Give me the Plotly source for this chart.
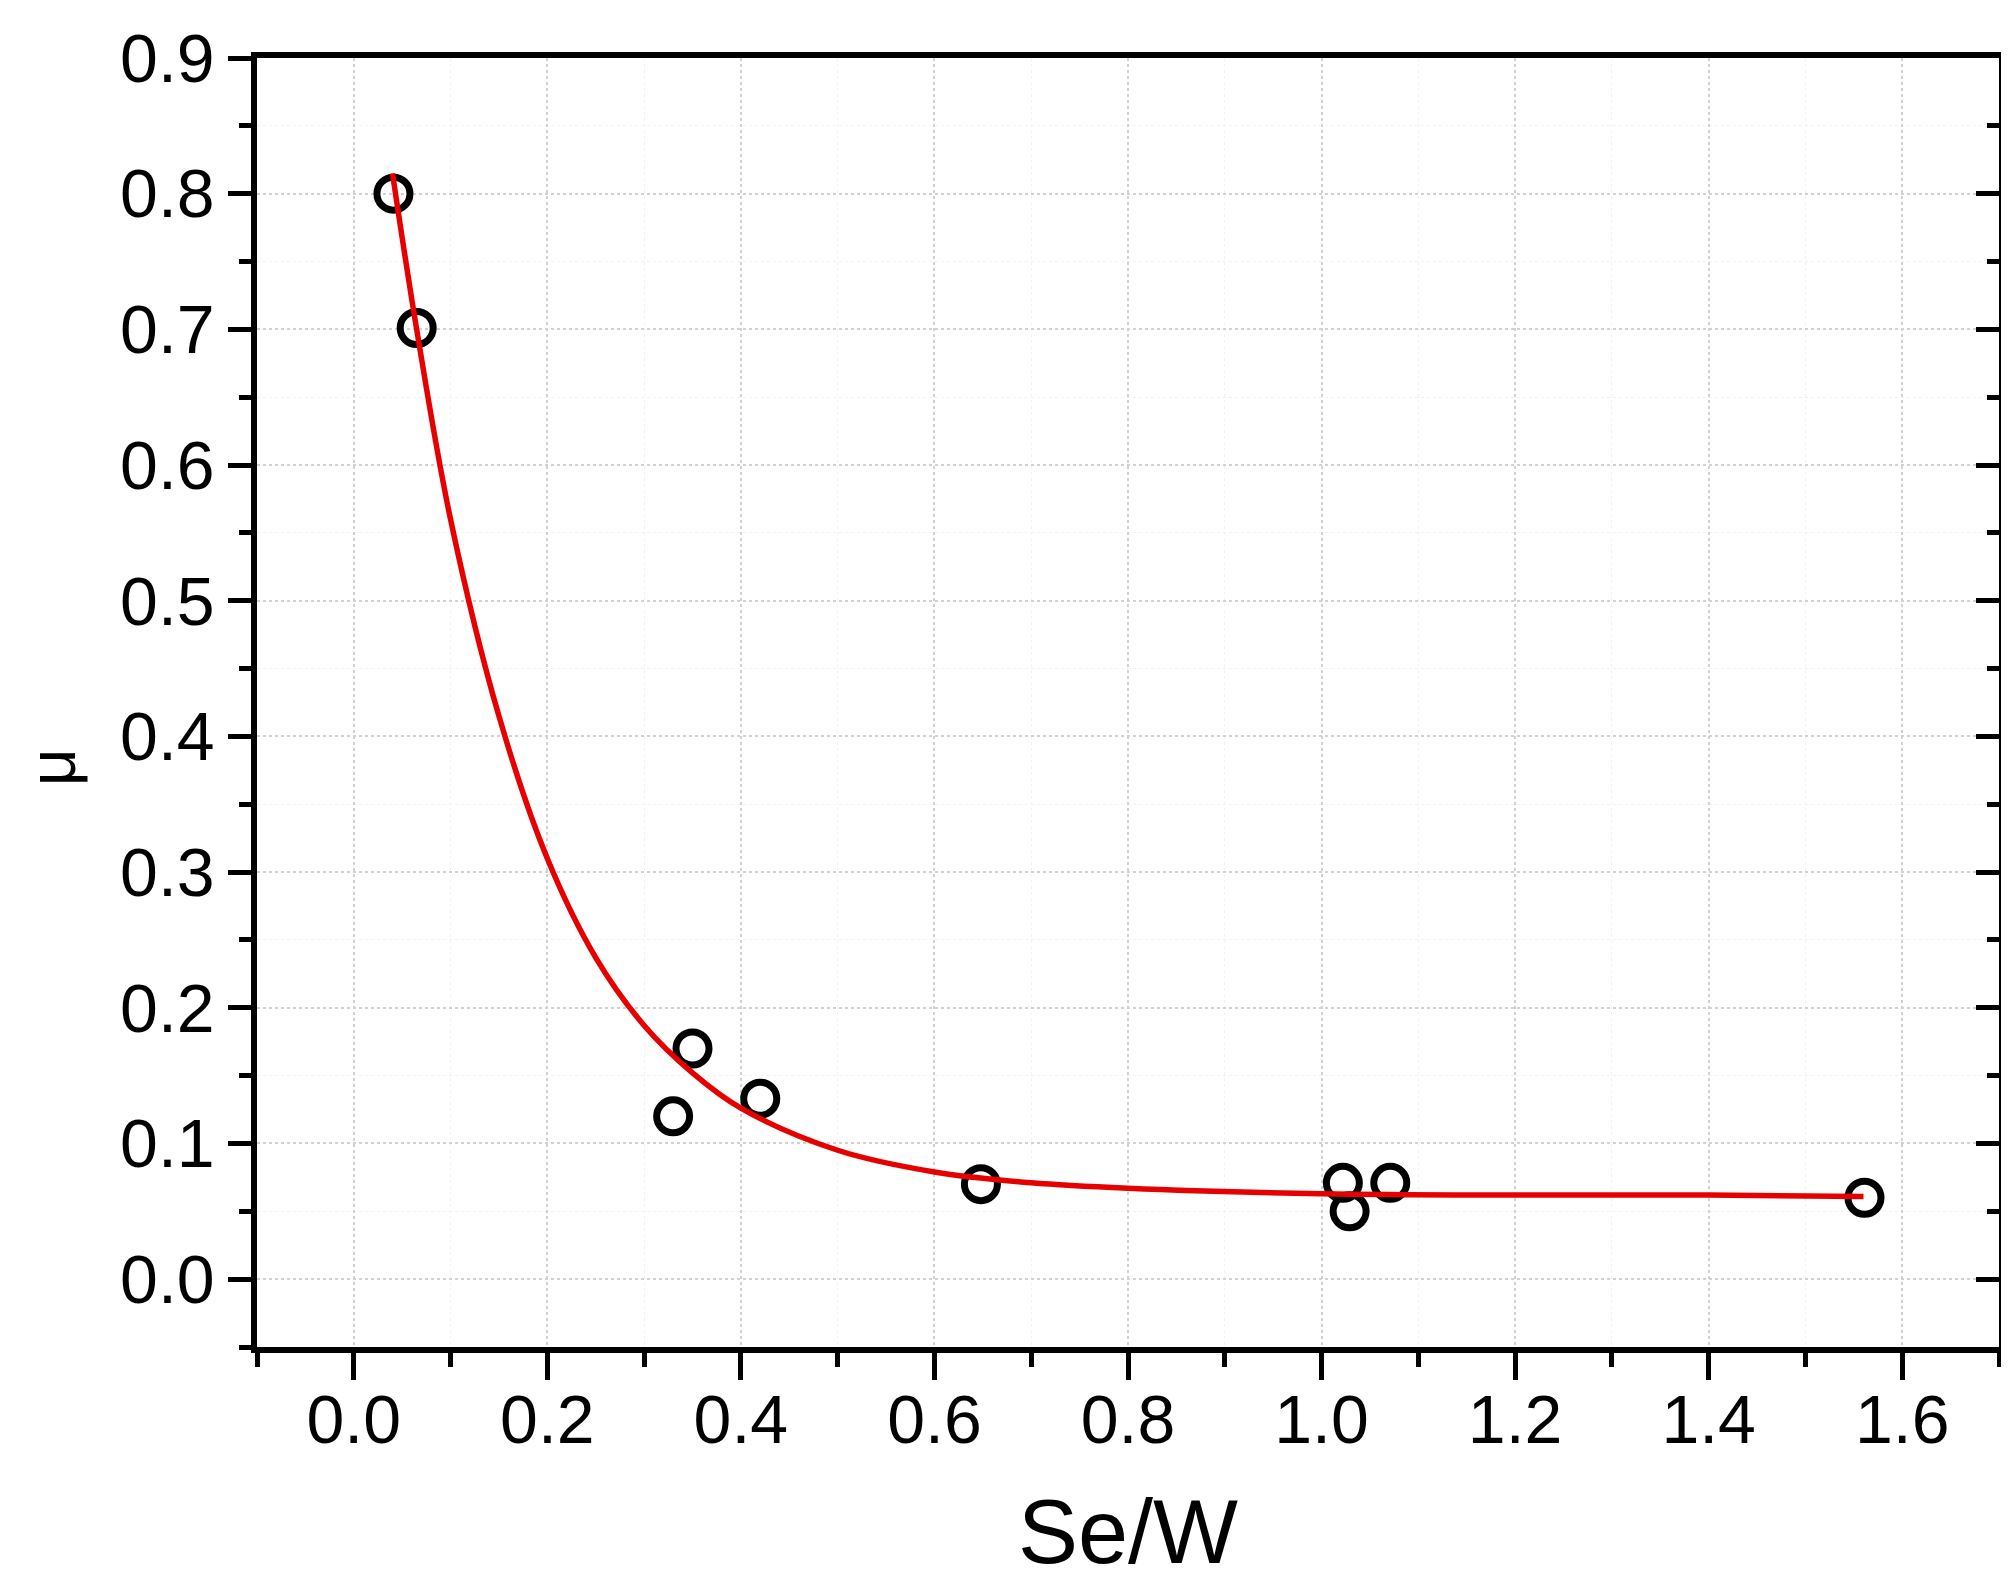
import plotly.graph_objects as go

# Measured data points
x_pts = [0.041, 0.065, 0.330, 0.350, 0.420, 0.648, 1.022, 1.029, 1.071, 1.561]
y_pts = [0.800, 0.701, 0.120, 0.170, 0.133, 0.070, 0.071, 0.050, 0.071, 0.060]

# Fitted curve
curve_x = [0.04, 0.065, 0.10, 0.15, 0.20, 0.25, 0.30, 0.35, 0.40, 0.50, 0.60, 0.70, 0.80, 1.00, 1.20, 1.40, 1.56]
curve_y = [0.815, 0.700, 0.560, 0.415, 0.310, 0.237, 0.187, 0.152, 0.126, 0.095, 0.079, 0.071, 0.067, 0.063, 0.062, 0.062, 0.061]

x_ticks = [0.0, 0.2, 0.4, 0.6, 0.8, 1.0, 1.2, 1.4, 1.6]
y_ticks = [0.0, 0.1, 0.2, 0.3, 0.4, 0.5, 0.6, 0.7, 0.8, 0.9]

FONT = "Liberation Sans, Arial, sans-serif"
W, H = 2009, 1587
OFF = 8  # default page body margin
L, T = 257 - OFF, 48 - OFF
PR, PB = 2005 - OFF, 1347 - OFF  # plot right / bottom in figure coords
R, B = W - PR, H - PB
PW, PH = PR - L, PB - T

fig = go.Figure()
fig.add_trace(go.Scatter(
    x=x_pts, y=y_pts, mode="markers",
    marker=dict(symbol="circle-open", size=33, color="black", line=dict(width=7, color="black")),
    showlegend=False, hoverinfo="skip"))
fig.add_trace(go.Scatter(
    x=curve_x, y=curve_y, mode="lines",
    line=dict(color="#e60000", width=5.5, shape="spline", smoothing=1.0),
    showlegend=False, hoverinfo="skip"))
fig.add_trace(go.Scatter(x=[None], y=[None], yaxis="y2", showlegend=False, hoverinfo="skip"))

axis_common = dict(showline=True, linecolor="black", linewidth=5.5, ticks="outside",
                   tickwidth=5, tickcolor="black", zeroline=False, mirror=True,
                   tickfont=dict(family=FONT, size=68, color="black"))

GRID = "#d2d2d2"
fig.update_layout(
    width=W, height=H,
    margin=dict(l=L, r=R, t=T, b=B),
    paper_bgcolor="white", plot_bgcolor="white",
    xaxis=dict(range=[-0.1, 1.7], tickmode="array", tickvals=x_ticks,
               ticktext=[f"{v:.1f}" for v in x_ticks], ticklen=27,
               showgrid=True, gridcolor=GRID, griddash="dot", gridwidth=1.5,
               minor=dict(dtick=0.1, tick0=0, ticks="outside", ticklen=14, tickwidth=5, tickcolor="black",
                          showgrid=True, gridcolor="#f2f2f2", gridwidth=1),
               ticklabelstandoff=-18,
               **axis_common),
    yaxis=dict(range=[-0.05, 0.9], tickmode="array", tickvals=y_ticks,
               ticktext=[f"{v:.1f}" for v in y_ticks], ticklen=23,
               showgrid=True, gridcolor=GRID, griddash="dot", gridwidth=1.5,
               minor=dict(dtick=0.05, tick0=0, ticks="outside", ticklen=12, tickwidth=5, tickcolor="black",
                          showgrid=True, gridcolor="#f2f2f2", gridwidth=1),
               ticklabelstandoff=0,
               **axis_common),
    yaxis2=dict(range=[-0.05, 0.9], overlaying="y", side="right", showline=False,
                ticks="inside", ticklen=23, tickwidth=5, tickcolor="black",
                tickmode="array", tickvals=y_ticks, showticklabels=False, showgrid=False, zeroline=False,
                minor=dict(dtick=0.05, tick0=0, ticks="inside", ticklen=12, tickwidth=5, tickcolor="black",
                           showgrid=False)),
    annotations=[
        dict(text="Se/W", xref="paper", yref="paper", x=0.5, y=-(1578 - PB) / PH,
             xanchor="center", yanchor="bottom", showarrow=False,
             font=dict(family=FONT, size=90, color="black")),
        dict(text="μ", xref="paper", yref="paper", x=(52 - OFF - L) / PW,
             y=(PB - (763 - OFF)) / PH, xanchor="center", yanchor="middle",
             textangle=-90, showarrow=False,
             font=dict(family=FONT, size=66, color="black")),
    ],
)

fig.write_html("out.html")
